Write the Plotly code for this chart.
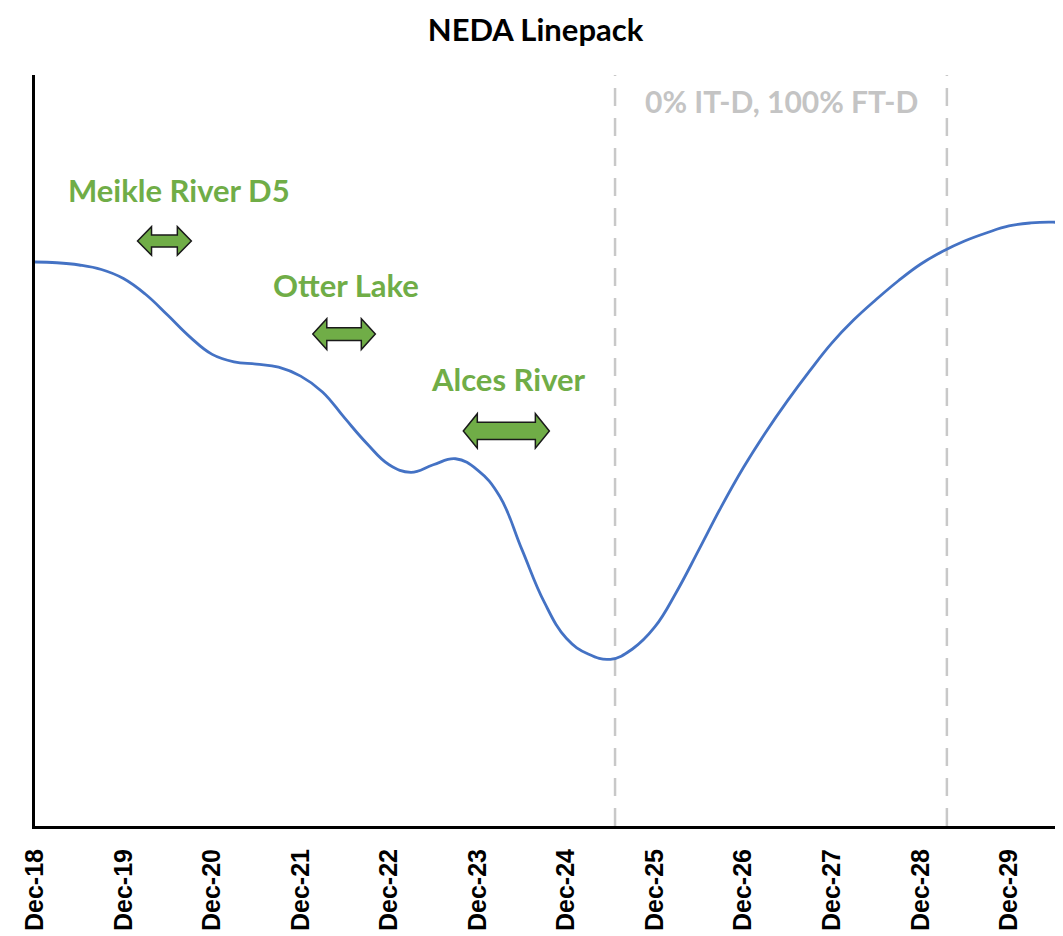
import plotly.graph_objects as go
import pandas as pd

# ---- data (quarterly readings) ----
dates = ["2018-12-01", "2019-03-01", "2019-06-01", "2019-09-01", "2019-12-01",
         "2020-03-01", "2020-06-01", "2020-09-01", "2020-12-01",
         "2021-03-01", "2021-06-01", "2021-09-01", "2021-12-01",
         "2022-03-01", "2022-06-01", "2022-09-01", "2022-12-01",
         "2023-03-01", "2023-06-01", "2023-09-01", "2023-12-01",
         "2024-03-01", "2024-06-01", "2024-09-01", "2024-12-01",
         "2025-03-01", "2025-06-01", "2025-09-01", "2025-12-01",
         "2026-03-01", "2026-06-01", "2026-09-01", "2026-12-01",
         "2027-03-01", "2027-06-01", "2027-09-01", "2027-12-01",
         "2028-03-01", "2028-06-01", "2028-09-01", "2028-12-01",
         "2029-03-01", "2029-06-01", "2029-09-01", "2029-12-01",
         "2030-03-01", "2030-06-01", "2030-07-12"]
linepack = [75.1, 75.0, 74.7, 74.1,
            72.9, 70.8, 68.0, 65.1,
            62.8, 61.8, 61.5, 61.1,
            59.9, 57.8, 54.3, 50.9,
            48.1, 47.1, 48.1, 48.9,
            47.4, 43.9, 36.8, 29.8,
            25.0, 22.9, 22.2, 23.6,
            26.5, 31.2, 36.8, 42.5,
            47.7, 52.3, 56.6, 60.6,
            64.3, 67.4, 70.1, 72.6,
            74.8, 76.5, 77.9, 79.0,
            79.9, 80.3, 80.4, 80.3]

tick_dates = ["2018-12-01", "2019-12-01", "2020-12-01", "2021-12-01", "2022-12-01",
              "2023-12-01", "2024-12-01", "2025-12-01", "2026-12-01", "2027-12-01",
              "2028-12-01", "2029-12-01"]
tick_labels = ["Dec-18", "Dec-19", "Dec-20", "Dec-21", "Dec-22", "Dec-23",
               "Dec-24", "Dec-25", "Dec-26", "Dec-27", "Dec-28", "Dec-29"]

# projects (double arrows) : start, end, level, label, label position
proj_names = ["Meikle River D5", "Otter Lake", "Alces River"]
proj_start = ["2020-01-28", "2022-01-20", "2023-10-03"]
proj_end = ["2020-09-06", "2022-10-05", "2024-09-22"]
proj_level = [77.9, 65.5, 52.6]
proj_label_x = ["2020-07-15", "2022-06-08", "2024-04-05"]
proj_label_y = [84.7, 72.0, 59.5]
proj_shaft = [0.8, 0.85, 1.15]
proj_head = [1.9, 2.05, 2.3]

# scenario boundaries
boundary_dates = ["2025-06-20", "2029-03-20"]
scenario_text = "0% IT-D, 100% FT-D"
scenario_x = "2027-05-06"
scenario_y = 96.5

x_range = ["2018-12-01", "2030-07-12"]

GREEN = "#70AD47"

fig = go.Figure()
fig.add_trace(go.Scatter(x=dates, y=linepack, mode="lines",
                         line=dict(color="#4472C4", width=2.8, shape="spline", smoothing=1.2),
                         hoverinfo="x+y", showlegend=False))

def ms(d):
    return pd.Timestamp(d).value / 1e6

head_len_ms = 1.9 * 30.4 * 86400 * 1000  # ~1.9 months

for s, e, lv, sh, hd in zip(proj_start, proj_end, proj_level, proj_shaft, proj_head):
    x0, x1 = ms(s), ms(e)
    xa, xb = x0 + head_len_ms, x1 - head_len_ms
    path = (f"M {x0},{lv} L {xa},{lv+hd} L {xa},{lv+sh} L {xb},{lv+sh} L {xb},{lv+hd} "
            f"L {x1},{lv} L {xb},{lv-hd} L {xb},{lv-sh} L {xa},{lv-sh} L {xa},{lv-hd} Z")
    fig.add_shape(type="path", path=path, xref="x", yref="y",
                  fillcolor=GREEN, line=dict(color="#1a1a1a", width=1.5), layer="above")

for name, lx, ly in zip(proj_names, proj_label_x, proj_label_y):
    fig.add_annotation(x=lx, y=ly, text=f"<b>{name}</b>", showarrow=False,
                       font=dict(family="Lato", size=31, color=GREEN))

for bd in boundary_dates:
    fig.add_shape(type="line", x0=bd, x1=bd, y0=0, y1=1, xref="x", yref="paper",
                  line=dict(color="#C8C8C8", width=2.5, dash="18px,12px"), layer="below")

fig.add_annotation(x=scenario_x, y=scenario_y, text=f"<b>{scenario_text}</b>", showarrow=False,
                   font=dict(family="Lato", size=30, color="#C4C4C4"))

# page body adds an 8px offset: figure is sized to fill the remaining window
fig.update_layout(
    width=1055, height=928,
    margin=dict(l=27, r=0, t=67, b=110, autoexpand=False),
    paper_bgcolor="white", plot_bgcolor="white",
    title=dict(text="<b>NEDA Linepack</b>", x=0.5, xanchor="center", y=0.976, yanchor="middle",
               font=dict(family="Lato", size=31, color="black")),
    xaxis=dict(type="date", range=x_range, tickvals=tick_dates, ticktext=tick_labels,
               tickangle=-90, showgrid=False, zeroline=False, showline=True, automargin=False,
               linecolor="black", linewidth=3, ticks="", ticklabelstandoff=10,
               tickfont=dict(family="Arial", size=25, color="black", weight="bold")),
    yaxis=dict(range=[0, 100], showgrid=False, zeroline=False, showline=True, automargin=False,
               linecolor="black", linewidth=3, showticklabels=False, ticks=""),
)

fig.write_html("out.html")
